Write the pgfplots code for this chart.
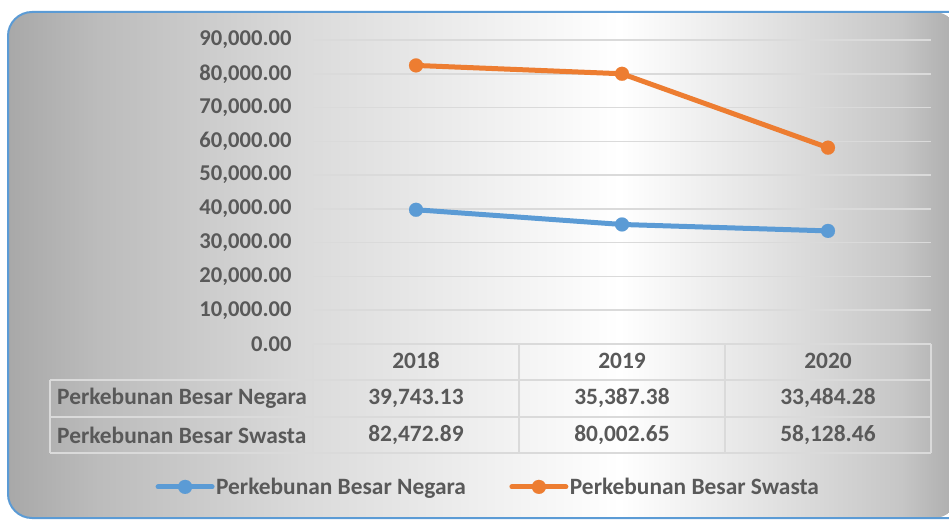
\documentclass[border=0pt]{standalone}
\usepackage{pgfplots}
\pgfplotsset{compat=1.18}
\usepackage{fontspec}
\setmainfont{Carlito}
\definecolor{sblue}{HTML}{5B9BD5}
\definecolor{sorange}{HTML}{ED7D31}
\definecolor{txt}{HTML}{595959}
\definecolor{gridc}{HTML}{DADADA}
\definecolor{g1}{HTML}{A8A8A8}
\definecolor{g2}{HTML}{BCBCBC}
\definecolor{g3}{HTML}{DADADA}
\definecolor{g4}{HTML}{E4E4E4}
\definecolor{g5}{HTML}{C6C6C6}
\definecolor{g6}{HTML}{ACACAC}
\pgfdeclarehorizontalshading{bgshade}{100bp}{%
 color(0bp)=(g1); color(25bp)=(g1); color(29.8bp)=(g2); color(40.4bp)=(g3);
 color(57.2bp)=(white); color(64.6bp)=(g4); color(72bp)=(g5); color(75bp)=(g6); color(100bp)=(g6)}

\begin{document}
\begin{tikzpicture}[x=1pt,y=1pt]
\path[use as bounding box] (0,0) rectangle (949,520);
\clip (0,0) rectangle (949,520);
% panel
\path[shading=bgshade, rounded corners=24pt] (8,508) rectangle (958,2);
\draw[sblue, line width=2pt, rounded corners=24pt] (8,508) rectangle (975,2);

\begin{axis}[
 at={(313pt,176pt)}, anchor=south west, scale only axis,
 width=618pt, height=304pt,
 xmin=0.5, xmax=3.5, ymin=0, ymax=90000,
 xtick=\empty, ytick={0,10000,...,90000},
 scaled y ticks=false, major tick length=0pt,
 axis line style={draw=none},
 ymajorgrids, grid style={gridc, line width=1.5pt},
 clip=false,
 /pgf/number format/.cd, fixed, fixed zerofill, precision=2, 1000 sep={,}, assume math mode=true,
 /pgfplots/.cd,
 yticklabel style={font=\fontsize{22.6}{26}\selectfont\bfseries, text=txt, xshift=-18pt},
 legend columns=2,
 legend style={at={(rel axis cs:-0.255,-0.47)}, anchor=west, draw=none, fill=none,
  inner sep=0pt, font=\fontsize{23.4}{27}\selectfont\bfseries, text=txt,
  nodes={inner sep=1.5pt},
  /tikz/every even column/.append style={column sep=42pt}},
 legend image code/.code={%
  \draw[#1, mark size=7pt, mark repeat=2, mark phase=2] plot coordinates {(0pt,0pt) (27pt,0pt) (54pt,0pt)};},
]
\addplot[sblue, line width=5pt, line cap=round, line join=round,
 mark=*, mark size=7pt, mark options={solid, line width=0.1pt}]
 coordinates {(1,39743.13) (2,35387.38) (3,33484.28)};
\addlegendentry{Perkebunan Besar Negara}
\addplot[sorange, line width=5pt, line cap=round, line join=round,
 mark=*, mark size=7pt, mark options={solid, line width=0.1pt}]
 coordinates {(1,82472.89) (2,80002.65) (3,58128.46)};
\addlegendentry{Perkebunan Besar Swasta}
\end{axis}

% data table
\begin{scope}[gridc, line width=1.5pt]
\draw (313,176) -- (931,176);
\draw (50,140) -- (931,140);
\draw (50,103) -- (931,103);
\draw (50,67) -- (931,67);
\draw (50,140) -- (50,67);
\foreach \x in {313,519,725,931} \draw (\x,176) -- (\x,67);
\end{scope}
\begin{scope}[every node/.style={font=\fontsize{23.4}{27}\selectfont\bfseries, text=txt, inner sep=0pt}]
\node at (416,159) {2018};
\node at (622,159) {2019};
\node at (828,159) {2020};
\node[anchor=west] at (57,122) {Perkebunan Besar Negara};
\node[anchor=west] at (57,85) {Perkebunan Besar Swasta};
\node at (416,122) {39,743.13};
\node at (622,122) {35,387.38};
\node at (828,122) {33,484.28};
\node at (416,85) {82,472.89};
\node at (622,85) {80,002.65};
\node at (828,85) {58,128.46};
\end{scope}
\end{tikzpicture}
\end{document}
